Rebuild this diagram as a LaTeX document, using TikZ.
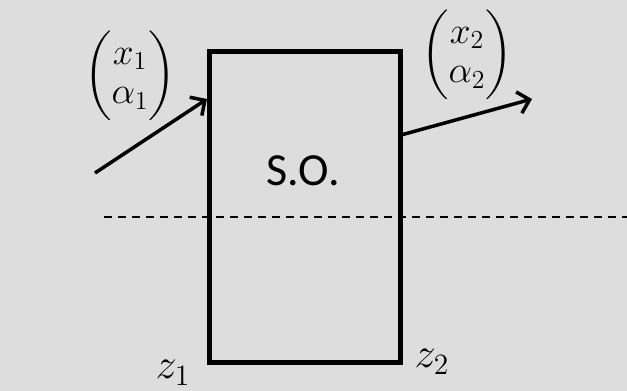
\documentclass[tikz,border=0pt]{standalone}
\usepackage{amsmath}
\usepackage{graphicx}
\usepackage{fontspec}
\setmainfont{Carlito}
\usetikzlibrary{arrows.meta}
\definecolor{bg}{RGB}{221,221,221}
\newcommand{\bigmath}[1]{\scalebox{1.8}{\fontsize{20}{22}\selectfont$#1$}}
\newcommand{\zmath}[1]{\scalebox{2.05}{\fontsize{20}{22}\selectfont$#1$}}
\begin{document}
\begin{tikzpicture}[x=1pt,y=1pt,
  box/.style={draw, line width=5pt, minimum width=191pt, minimum height=311pt, inner sep=0pt},
  flow/.style={line width=3.5pt, -{Straight Barb[length=11pt,width=22pt,line width=3.5pt]}},
  cut/.style={line width=1.8pt, dash pattern=on 7.5pt off 6.5pt},
  lbl/.style={inner sep=0pt},
  txt/.style={inner sep=0pt, font=\fontsize{46}{50}\selectfont}]
\fill[bg] (0,0) rectangle (627,391);
\useasboundingbox (0,0) rectangle (627,391);
\coordinate (dl) at (104,174);
\coordinate (dr) at (627,174);
\draw[cut] (dl) -- (dr);
\node[box] (so) at (304.5,183.5) {};
\node[txt] (sotext) at (303,220) {S.O.};
\coordinate (inA) at (95,218);
\coordinate (inB) at (207,292);
\coordinate (outA) at (401,256);
\coordinate (outB) at (532,292);
\draw[flow] (inA) -- (inB);
\draw[flow] (outA) -- (outB);
\node[lbl] (v1) at (130,315) {\bigmath{\begin{pmatrix}x_1\\ \alpha_1\end{pmatrix}}};
\node[lbl] (v2) at (467,336) {\bigmath{\begin{pmatrix}x_2\\ \alpha_2\end{pmatrix}}};
\node[lbl] (z1) at (173,18) {\zmath{z_1}};
\node[lbl] (z2) at (432,29) {\zmath{z_2}};
\end{tikzpicture}
\end{document}
